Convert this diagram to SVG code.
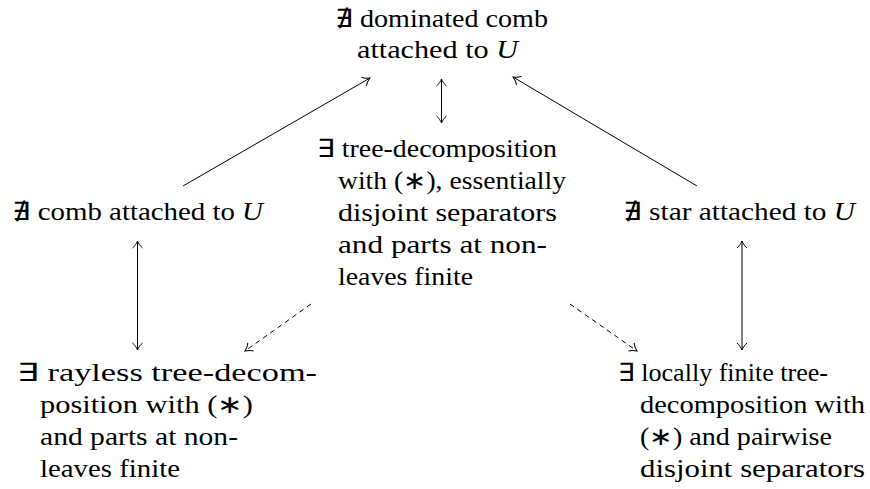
<svg xmlns="http://www.w3.org/2000/svg" width="870" height="489" viewBox="0 0 870 489">
<defs>
<style>
.t{font-family:'Liberation Serif',serif;font-size:25px;fill:#000}
.it{font-style:italic}
.c{fill:none;stroke:#000;stroke-width:1}
.d{stroke-dasharray:5,4}
</style>
<marker id="ah" viewBox="-10 -7 12 14" markerWidth="12" markerHeight="14" refX="0" refY="0" orient="auto-start-reverse" markerUnits="userSpaceOnUse" overflow="visible">
<path d="M-7,-5 C-5,-2.5 -2,-0.8 0,0 C-2,0.8 -5,2.5 -7,5" fill="none" stroke="#000" stroke-width="1"/>
</marker>
</defs>
<rect width="870" height="489" fill="#fff"/>
<g id="n-top" class="t">
<text x="335" y="27" textLength="213" lengthAdjust="spacingAndGlyphs">∄ dominated comb</text>
<text x="357" y="58" textLength="161" lengthAdjust="spacingAndGlyphs">attached to <tspan class="it">U</tspan></text>
</g>
<g id="n-left" class="t">
<text x="12" y="220" textLength="251" lengthAdjust="spacingAndGlyphs">∄ comb attached to <tspan class="it">U</tspan></text>
</g>
<g id="n-right" class="t">
<text x="623" y="220" textLength="232" lengthAdjust="spacingAndGlyphs">∄ star attached to <tspan class="it">U</tspan></text>
</g>
<g id="n-center" class="t">
<text x="317" y="157" textLength="240" lengthAdjust="spacingAndGlyphs">∃ tree-decomposition</text>
<text x="338" y="189" textLength="228" lengthAdjust="spacingAndGlyphs">with (∗), essentially</text>
<text x="338" y="221" textLength="219" lengthAdjust="spacingAndGlyphs">disjoint separators</text>
<text x="338" y="253" textLength="209" lengthAdjust="spacingAndGlyphs">and parts at non-</text>
<text x="338" y="285" textLength="135" lengthAdjust="spacingAndGlyphs">leaves finite</text>
</g>
<g id="n-bl" class="t">
<text x="17" y="381" textLength="300" lengthAdjust="spacingAndGlyphs">∃ rayless tree-decom-</text>
<text x="40" y="413" textLength="213" lengthAdjust="spacingAndGlyphs">position with (∗)</text>
<text x="40" y="445" textLength="198" lengthAdjust="spacingAndGlyphs">and parts at non-</text>
<text x="40" y="477" textLength="140" lengthAdjust="spacingAndGlyphs">leaves finite</text>
</g>
<g id="n-br" class="t">
<text x="618" y="381" textLength="210" lengthAdjust="spacingAndGlyphs">∃ locally finite tree-</text>
<text x="640" y="413" textLength="225" lengthAdjust="spacingAndGlyphs">decomposition with</text>
<text x="640" y="445" textLength="192" lengthAdjust="spacingAndGlyphs">(∗) and pairwise</text>
<text x="640" y="477" textLength="225" lengthAdjust="spacingAndGlyphs">disjoint separators</text>
</g>
<g id="connectors">
<line class="c" x1="441.5" y1="79" x2="441.5" y2="123" marker-start="url(#ah)" marker-end="url(#ah)"/>
<line class="c" x1="183" y1="186" x2="370" y2="78" marker-end="url(#ah)"/>
<line class="c" x1="697" y1="186" x2="513" y2="77" marker-end="url(#ah)"/>
<line class="c" x1="137.5" y1="241" x2="137.5" y2="350" marker-start="url(#ah)" marker-end="url(#ah)"/>
<line class="c" x1="742" y1="241" x2="742" y2="350" marker-start="url(#ah)" marker-end="url(#ah)"/>
<line class="c d" x1="311" y1="304" x2="245" y2="351" marker-end="url(#ah)"/>
<line class="c d" x1="570" y1="304" x2="637" y2="351" marker-end="url(#ah)"/>
</g>
</svg>
